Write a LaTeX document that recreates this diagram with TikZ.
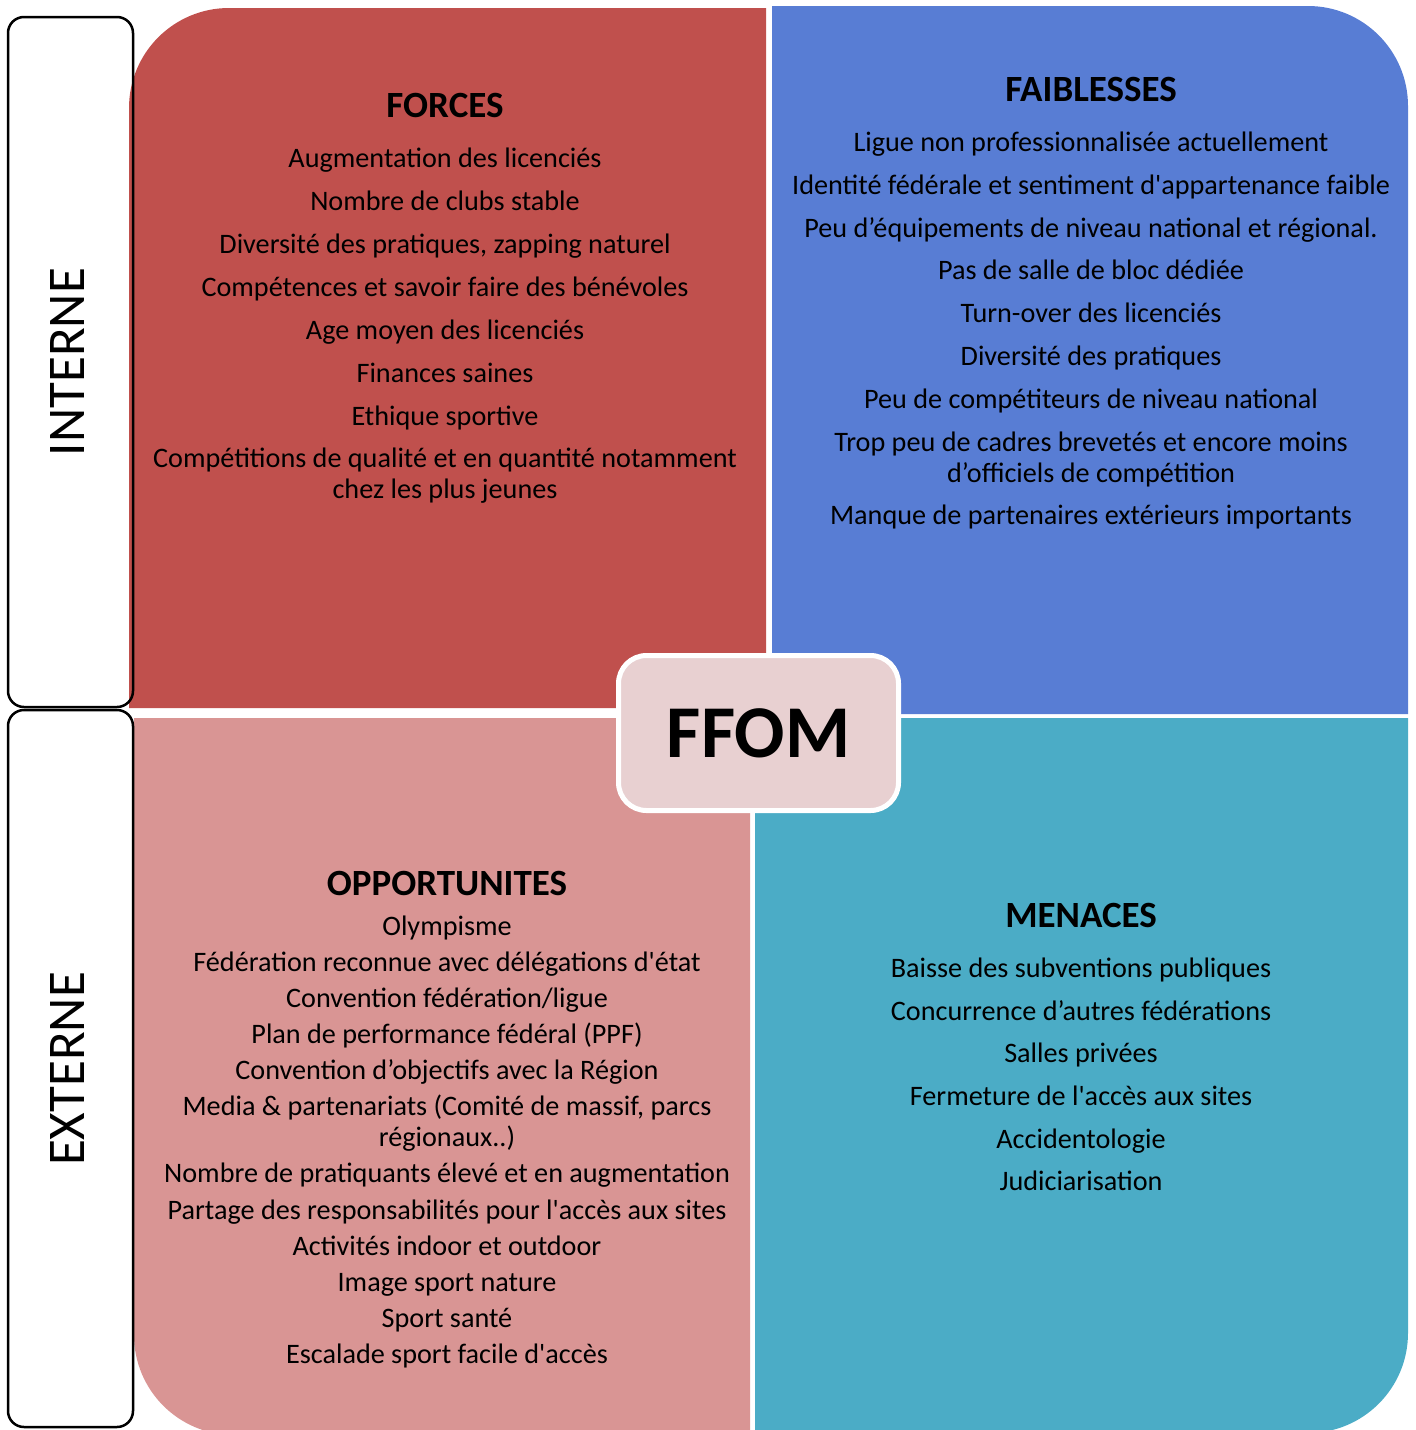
\documentclass[tikz,border=0pt]{standalone}
\usepackage{fontspec}
\newfontfamily\swotfont{Carlito}
\definecolor{forcescol}{HTML}{C0504D}
\definecolor{faiblescol}{HTML}{587DD4}
\definecolor{opportcol}{HTML}{D99594}
\definecolor{menacescol}{HTML}{4BACC6}
\definecolor{ffomcol}{HTML}{E8D0D1}
\tikzset{
	quad title/.style={font=\swotfont\bfseries\fontsize{37}{44}\selectfont, anchor=base, inner sep=0pt},
	quad item/.style={font=\swotfont\fontsize{28.2}{34}\selectfont, anchor=base, inner sep=0pt},
	side label/.style={font=\swotfont\fontsize{53}{62}\selectfont, rotate=90, inner sep=0pt},
	side box/.style={draw=black, line width=2.5pt, rounded corners=16pt},
	ffombox/.style={fill=ffomcol, draw=white, line width=5pt, rounded corners=28pt, minimum width=280pt, minimum height=155pt, inner sep=0pt, font=\swotfont\bfseries\fontsize{74.5}{82}\selectfont}
}
\begin{document}
\begin{tikzpicture}[x=1pt,y=-1pt, line join=round]
		\useasboundingbox (0,0) rectangle (1416,1430);
		\clip (0,0) rectangle (1416,1430);
		\fill[forcescol] (129,708)--(129,108) arc[start angle=180,end angle=270,radius=100]--(766,8)--(766,708)--cycle;
		\fill[faiblescol] (772,714)--(772,6)--(1308,6) arc[start angle=270,end angle=360,radius=100]--(1408,714)--cycle;
		\fill[opportcol] (134,718)--(134,1335) arc[start angle=180,end angle=90,radius=100]--(750,1435)--(750,718)--cycle;
		\fill[menacescol] (755,718)--(755,1433)--(1308,1433) arc[start angle=90,end angle=0,radius=100]--(1408,718)--cycle;
		%	side boxes
		\draw[side box] (8,17) rectangle (133,707);
		\draw[side box] (8,710) rectangle (133,1427);
		\node[side label] (interne) at (67,362) {INTERNE};
		\node[side label] (externe) at (67,1069) {EXTERNE};
		\node[quad title] (forces) at (445,117) {FORCES};
		\foreach \ly/\txt [count=\i] in {167/Augmentation des licenciés, 210/Nombre de clubs stable,
			{253/Diversité des pratiques, zapping naturel}, 296/Compétences et savoir faire des bénévoles,
			339/Age moyen des licenciés, 382/Finances saines, 425/Ethique sportive,
			467/Compétitions de qualité et en quantité notamment, 498/chez les plus jeunes}
		\node[quad item] (f\i) at (445,\ly) {\txt};
		\node[quad title] (faiblesses) at (1091,101) {FAIBLESSES};
		\foreach \ly/\txt [count=\i] in {151/Ligue non professionnalisée actuellement,
			194/Identité fédérale et sentiment d'appartenance faible,
			237/Peu d’équipements de niveau national et régional., 279/Pas de salle de bloc dédiée,
			322/Turn-over des licenciés, 365/Diversité des pratiques, 408/Peu de compétiteurs de niveau national,
			451/Trop peu de cadres brevetés et encore moins, 482/d’officiels de compétition,
			524/Manque de partenaires extérieurs importants}
		\node[quad item] (fb\i) at (1091,\ly) {\txt};
		\node[quad title] (opportunites) at (447,895) {OPPORTUNITES};
		\foreach \ly/\txt [count=\i] in {935/Olympisme, 971/Fédération reconnue avec délégations d'état,
			1007/{Convention fédération/ligue}, 1043/Plan de performance fédéral (PPF),
			1079/Convention d’objectifs avec la Région, {1115/Media \& partenariats (Comité de massif, parcs},
			1146/régionaux..), 1182/Nombre de pratiquants élevé et en augmentation,
			1219/Partage des responsabilités pour l'accès aux sites, 1255/Activités indoor et outdoor,
			1291/Image sport nature, 1327/Sport santé, 1363/Escalade sport facile d'accès}
		\node[quad item] (o\i) at (447,\ly) {\txt};
		\node[quad title] (menaces) at (1081,927) {MENACES};
		\foreach \ly/\txt [count=\i] in {977/Baisse des subventions publiques, 1020/Concurrence d’autres fédérations,
			1062/Salles privées, 1105/Fermeture de l'accès aux sites, 1148/Accidentologie, 1190/Judiciarisation}
		\node[quad item] (m\i) at (1081,\ly) {\txt};
		\node[ffombox] (ffom) at (758.5,733) {FFOM};
\end{tikzpicture}
\end{document}
